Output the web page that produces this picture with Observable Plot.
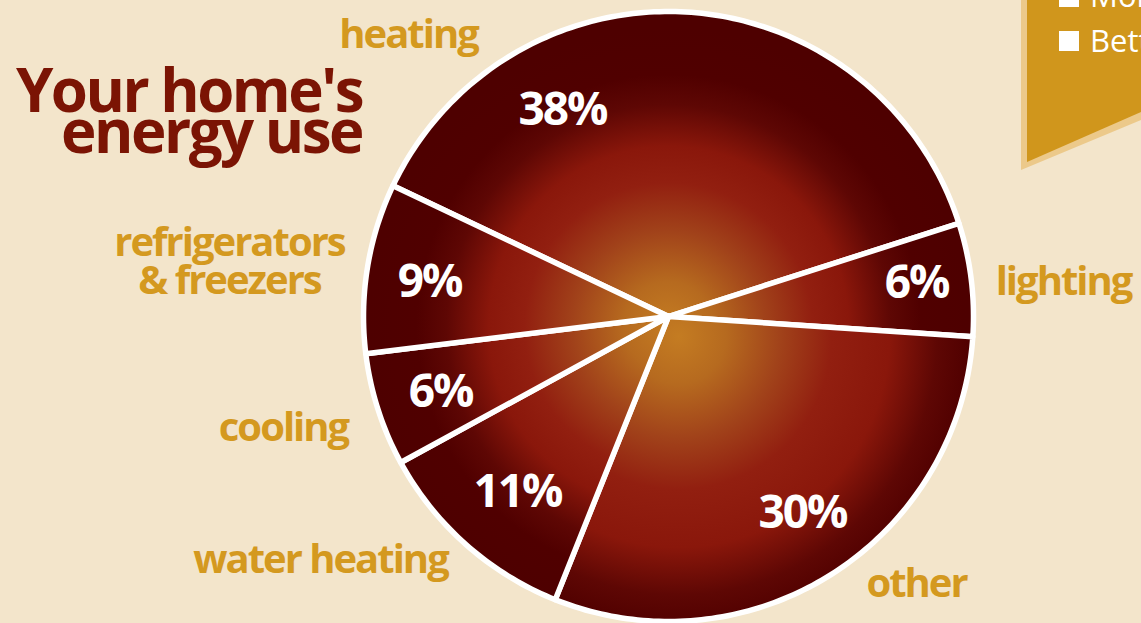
<!DOCTYPE html>
<html>
<head>
<meta charset="utf-8">
<script src="https://cdn.jsdelivr.net/npm/d3@7"></script>
<script src="https://cdn.jsdelivr.net/npm/@observablehq/plot@0.6"></script>
<style>
  html, body { margin:0; padding:0; }
  body { background:#f3e5cb; width:1141px; height:623px; overflow:hidden; position:relative; font-family:"Open Sans", sans-serif; }
  #chart { position:absolute; left:0; top:0; }
  #title { position:absolute; left:0; top:69px; width:362px; text-align:right; color:#7b1404; font-weight:700; font-size:60px; line-height:41px; letter-spacing:-2.5px; }
  #legend { position:absolute; left:0; top:0; }
</style>
</head>
<body>
<div id="chart"></div>
<div id="title">Your home's<br>energy use</div>
<svg id="legend" width="1141" height="623">
  <polygon points="1021,0 1141,0 1141,120 1021,170" fill="#ecc98a"></polygon>
  <polygon points="1027,0 1141,0 1141,112 1027,162" fill="#d0961c"></polygon>
  <rect x="1059" y="-13" width="20" height="20" fill="#fff"></rect>
  <text x="1090" y="7" fill="#fff" font-size="31" font-family="Open Sans, sans-serif">More</text>
  <rect x="1059" y="31" width="20" height="20" fill="#fff"></rect>
  <text x="1090" y="52" fill="#fff" font-size="31" font-family="Open Sans, sans-serif">Better</text>
</svg>
<script>
// ---- data ----
const categories = ["heating", "lighting", "other", "water heating", "cooling", "refrigerators\n& freezers"];
const shares = [38, 6, 30, 11, 6, 9];
const pctLabels = shares.map(d => d + "%");

// ---- layout (label anchors, in chart units relative to pie centre) ----
const startAngle = 154.6;   // degrees, math convention, slices run clockwise
const radius = 305;
const catLabelX = [-260, 395, 248, -348, -385, -439];
const catLabelY = [281, 34, -268, -244, -112, 54];
const pctLabelX = [-106, 248, 134, -151, -228, -239];
const pctLabelY = [206, 33, -197, -176, -76, 34];
const sliceFill = ["url(#pieGrad)", "url(#pieGrad)", "url(#pieGrad2)", "url(#pieGrad)", "url(#pieGrad)", "url(#pieGrad)"];

// slice outlines
const slicePts = [];
let a0 = startAngle;
shares.forEach((v, i) => {
  const a1 = a0 - v / 100 * 360;
  slicePts.push({cat: categories[i], fill: sliceFill[i], x: 0, y: 0});
  const n = Math.max(2, Math.ceil(Math.abs(a0 - a1)));
  for (let k = 0; k <= n; k++) {
    const t = (a0 + (a1 - a0) * k / n) * Math.PI / 180;
    slicePts.push({cat: categories[i], fill: sliceFill[i], x: radius * Math.cos(t), y: radius * Math.sin(t)});
  }
  slicePts.push({cat: categories[i], fill: sliceFill[i], x: 0, y: 0});
  a0 = a1;
});

const catData = categories.map((c, i) => ({text: c, x: catLabelX[i], y: catLabelY[i]}));
const pctData = pctLabels.map((p, i) => ({text: p, x: pctLabelX[i], y: pctLabelY[i]}));

const W = 1141, H = 623, cx = 668, cy = 316;
const chart = Plot.plot({
  width: W, height: H,
  margin: 0,
  x: {domain: [-cx, W - cx], axis: null},
  y: {domain: [-(H - cy), cy], axis: null},
  color: {type: "identity"},
  style: {background: "transparent", letterSpacing: "-2px", fontFamily: "'Open Sans', sans-serif", overflow: "hidden"},
  marks: [
    Plot.line(slicePts, {x: "x", y: "y", z: "cat", fill: "fill", stroke: "white", strokeWidth: 5.5, strokeLinejoin: "round", curve: "linear"}),
    Plot.text(pctData, {x: "x", y: "y", text: "text", fill: "white", fontSize: 46, fontWeight: 700, lineAnchor: "middle"}),
    Plot.text(catData, {x: "x", y: "y", text: "text", fill: "#d4991f", fontSize: 40, fontWeight: 700, lineAnchor: "middle", lineHeight: 0.95})
  ]
});

// radial gradients for the slices
const gx = chart.scale("x").apply(0), gy = chart.scale("y").apply(0);
const defs = d3.select(chart).insert("defs", ":first-child");
function addGrad(id, x, y, r, stops) {
  const g = defs.append("radialGradient").attr("id", id)
    .attr("gradientUnits", "userSpaceOnUse")
    .attr("cx", x).attr("cy", y).attr("r", r);
  stops.forEach(([o, c]) => g.append("stop").attr("offset", o).attr("stop-color", c));
}
addGrad("pieGrad", gx, gy + 10, 300,
  [[0, "#c47c22"], [0.15, "#b66a1f"], [0.32, "#a1421a"], [0.48, "#921f10"], [0.6, "#8a170b"], [0.74, "#5e0704"], [0.84, "#500000"], [1, "#4e0000"]]);
addGrad("pieGrad2", gx + 10, gy + 20, 340,
  [[0, "#c47c22"], [0.14, "#b66a1f"], [0.3, "#a1421a"], [0.45, "#921f10"], [0.62, "#8a170b"], [0.76, "#5e0704"], [0.86, "#500000"], [1, "#4e0000"]]);

document.getElementById("chart").appendChild(chart);
</script>
</body>
</html>
